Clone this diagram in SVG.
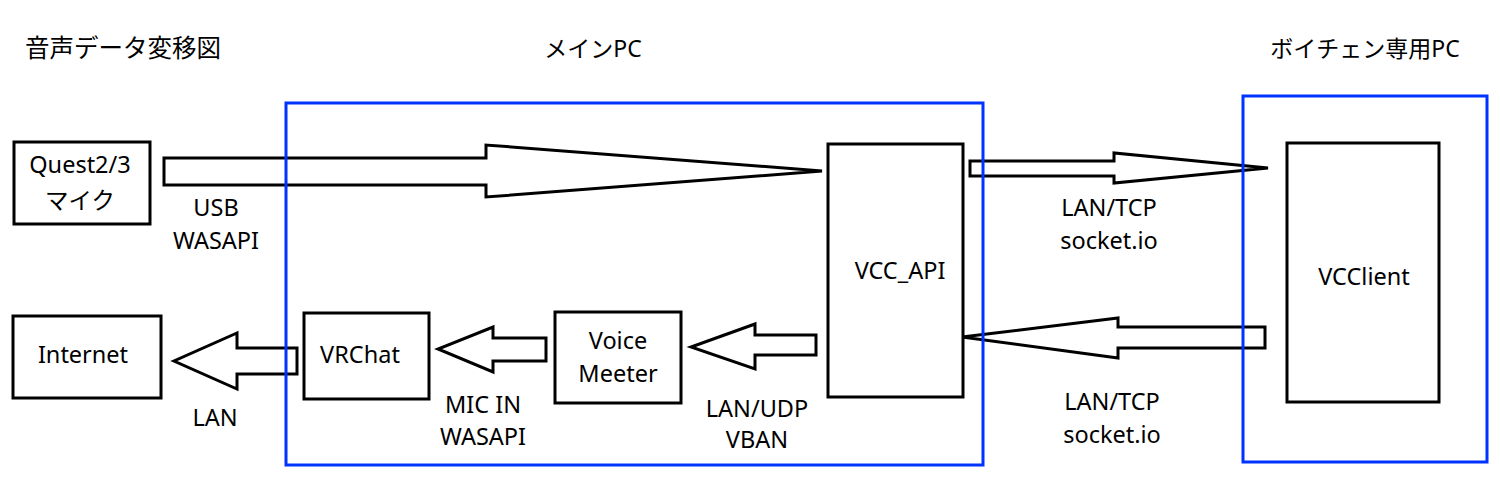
<svg xmlns="http://www.w3.org/2000/svg" width="1500" height="500" viewBox="0 0 1500 500">
<style>
text{font-family:"Noto Sans","Noto Sans CJK JP",sans-serif;font-size:23.5px;fill:#000;text-anchor:middle}
.title{font-size:23px}
.node{fill:#fff;stroke:#000;stroke-width:3}
.frame{fill:none;stroke:#0033ff;stroke-width:3}
.arrow{fill:#fff;stroke:#000;stroke-width:3;stroke-linejoin:miter}
</style>
<rect width="1500" height="500" fill="#fff"/>
<g id="titles">
<text class="title" x="25" y="57" style="text-anchor:start;font-size:24.5px">音声データ変移図</text>
<text class="title" x="593" y="57">メインPC</text>
<text class="title" x="1365" y="57">ボイチェン専用PC</text>
</g>
<g id="connectors">
<path class="arrow" d="M164,158 H486 V145 L822,171 L486,197 V185 H164 Z"/>
<path class="arrow" d="M970,161 H1114 V153 L1268,168 L1114,183 V176 H970 Z"/>
<path class="arrow" d="M1265,327 H1118 V318 L962,337 L1118,358 V348 H1265 Z"/>
<path class="arrow" d="M816,335 H755 V324 L691,347 L755,369 V355 H816 Z"/>
<path class="arrow" d="M546,338 H493 V327 L438,349 L493,372 V361 H546 Z"/>
<path class="arrow" d="M297,348 H237 V333 L174,361 L237,389 V374 H297 Z"/>
<text x="216" y="216">USB</text>
<text x="216" y="249">WASAPI</text>
<text x="1109" y="216">LAN/TCP</text>
<text x="1109" y="249">socket.io</text>
<text x="1112" y="410">LAN/TCP</text>
<text x="1112" y="443">socket.io</text>
<text x="757" y="417">LAN/UDP</text>
<text x="757" y="448">VBAN</text>
<text x="483" y="413">MIC IN</text>
<text x="483" y="445">WASAPI</text>
<text x="215" y="426">LAN</text>
</g>
<g id="mainpc"><rect class="frame" x="286" y="103" width="697" height="362"/></g>
<g id="vcpc"><rect class="frame" x="1243" y="96" width="244" height="366"/></g>
<g id="quest"><rect class="node" x="14" y="142" width="136" height="82"/>
<text x="80" y="173">Quest2/3</text><text x="80" y="209">マイク</text></g>
<g id="vccapi"><rect class="node" x="828" y="144" width="135" height="253"/>
<text x="900" y="279">VCC_API</text></g>
<g id="vcclient"><rect class="node" x="1287" y="143" width="152" height="259"/>
<text x="1364" y="285">VCClient</text></g>
<g id="internet"><rect class="node" x="13" y="316" width="148" height="82"/>
<text x="83" y="363">Internet</text></g>
<g id="vrchat"><rect class="node" x="304" y="313" width="125" height="86"/>
<text x="360" y="363">VRChat</text></g>
<g id="voicemeeter"><rect class="node" x="555" y="312" width="126" height="91"/>
<text x="618" y="349">Voice</text><text x="618" y="382">Meeter</text></g>
</svg>
